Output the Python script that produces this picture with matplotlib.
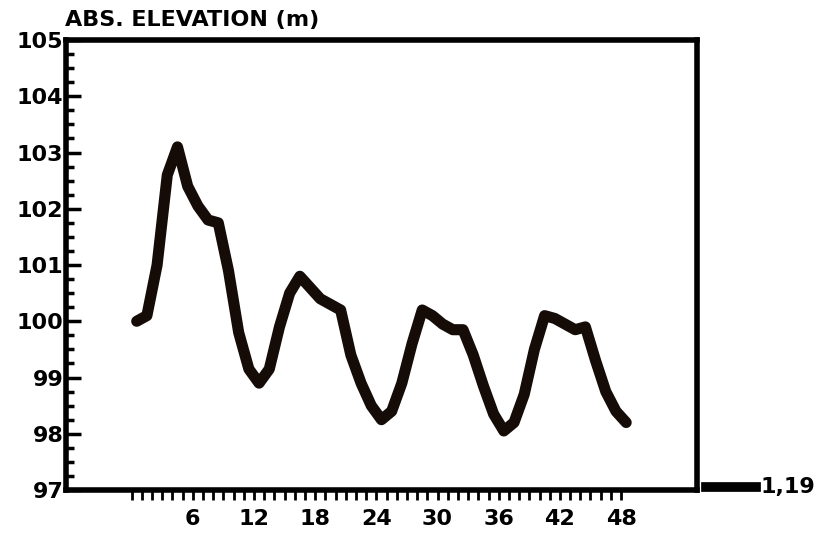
import numpy as np
import matplotlib.pyplot as plt
from matplotlib.lines import Line2D

# hourly readings (hours), absolute elevation in metres
hours = np.arange(0, 49) + 0.5
elevation = [100.0, 100.1, 101.0, 102.6, 103.1, 102.4, 102.05, 101.8, 101.75, 100.9,
             99.8, 99.15, 98.9, 99.15, 99.9, 100.5, 100.8, 100.6, 100.4, 100.3,
             100.2, 99.4, 98.9, 98.5, 98.25, 98.4, 98.9, 99.6, 100.2, 100.1,
             99.95, 99.85, 99.85, 99.4, 98.85, 98.35, 98.05, 98.2, 98.7, 99.5,
             100.1, 100.05, 99.95, 99.85, 99.9, 99.3, 98.75, 98.4, 98.2]

x_labels = [6, 12, 18, 24, 30, 36, 42, 48]
y_labels = [97, 98, 99, 100, 101, 102, 103, 104, 105]
legend_text = '1,19'
title = 'ABS. ELEVATION (m)'

plt.rcParams['font.family'] = ['DejaVu Sans']
fig = plt.figure(figsize=(8.39, 5.48), dpi=100)
ax = fig.add_axes([0.0787, 0.1058, 0.752, 0.8212])

ax.plot(hours, elevation, color='#150c08', lw=8, solid_capstyle='round',
        solid_joinstyle='round')

ax.set_xlim(-6.43, 55.44)
ax.set_ylim(97, 105)

# y axis: ticks inside, quarter-metre minor ticks
ax.set_yticks(y_labels)
ax.set_yticklabels([str(v) for v in y_labels], fontsize=16, fontweight='bold')
ax.set_yticks(np.arange(97, 105.01, 0.25), minor=True)
ax.tick_params(axis='y', which='major', direction='in', length=11, width=2.5,
               pad=2, left=True, right=False)
ax.tick_params(axis='y', which='minor', direction='in', length=6, width=2.5,
               left=True, right=False)

# x axis: hourly ticks below the frame
ax.set_xticks(x_labels)
ax.set_xticklabels([str(v) for v in x_labels], fontsize=16, fontweight='bold')
ax.set_xticks(np.arange(0, 49), minor=True)
ax.tick_params(axis='x', which='both', direction='out', length=7, width=2, pad=7,
               bottom=True, top=False)

for s in ax.spines.values():
    s.set_linewidth(4)
    s.set_color('black')

fig.text(0.077, 0.946, title, fontsize=16, fontweight='bold', ha='left', va='bottom')

# little legend bar at lower right
fig.add_artist(Line2D([0.842, 0.901], [0.112, 0.112], color='black', lw=7,
                      transform=fig.transFigure))
fig.text(0.907, 0.112, legend_text, fontsize=16, fontweight='bold', ha='left',
         va='center')

fig.savefig('out.png', dpi=100, facecolor='white')
